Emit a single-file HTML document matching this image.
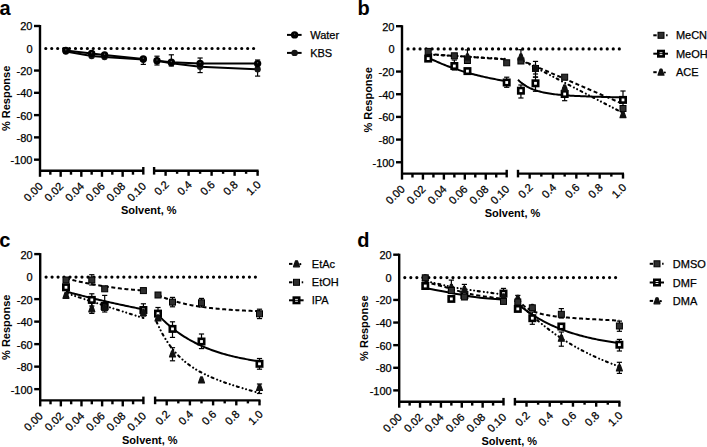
<!DOCTYPE html><html><head><meta charset="utf-8"><style>
html,body{margin:0;padding:0;background:#fff;}
svg{display:block;}
text{font-family:"Liberation Sans", sans-serif;fill:#000;}
.pl{font-size:20px;font-weight:bold;}
.tl{font-size:11px;stroke:#000;stroke-width:0.25px;}
.at{font-size:11px;font-weight:bold;}
.lg{font-size:11px;stroke:#000;stroke-width:0.25px;}
.ax{stroke:#000;stroke-width:2.4;fill:none;}
.zero{stroke:#000;stroke-width:3.2;stroke-dasharray:0 5.97;stroke-linecap:round;fill:none;}
.ln{stroke:#000;stroke-width:2;fill:none;}
.dash{stroke:#000;stroke-width:2;fill:none;stroke-dasharray:4 2.6;}
.dd{stroke:#000;stroke-width:2.1;fill:none;stroke-linecap:round;stroke-dasharray:2 4 0.01 3.6 0.01 3.8;}
.eb{stroke:#000;stroke-width:1.2;fill:none;}
</style></head><body>
<svg width="707" height="447" viewBox="0 0 707 447">
<text x="-0.6" y="14.5" class="pl">a</text>
<line x1="40" y1="25" x2="40" y2="176.8" class="ax"/>
<line x1="34" y1="26" x2="40" y2="26" class="ax"/>
<text x="32.5" y="30.4" class="tl" text-anchor="end">20</text>
<text x="32.5" y="52.68" class="tl" text-anchor="end">0</text>
<line x1="34" y1="70.55" x2="40" y2="70.55" class="ax"/>
<text x="32.5" y="74.95" class="tl" text-anchor="end">-20</text>
<line x1="34" y1="92.83" x2="40" y2="92.83" class="ax"/>
<text x="32.5" y="97.23" class="tl" text-anchor="end">-40</text>
<line x1="34" y1="115.11" x2="40" y2="115.11" class="ax"/>
<text x="32.5" y="119.51" class="tl" text-anchor="end">-60</text>
<line x1="34" y1="137.38" x2="40" y2="137.38" class="ax"/>
<text x="32.5" y="141.78" class="tl" text-anchor="end">-80</text>
<line x1="34" y1="159.66" x2="40" y2="159.66" class="ax"/>
<text x="32.5" y="164.06" class="tl" text-anchor="end">-100</text>
<line x1="40" y1="170.8" x2="143.3" y2="170.8" class="ax"/>
<line x1="50.33" y1="170.8" x2="50.33" y2="174.7" class="ax"/>
<line x1="60.66" y1="170.8" x2="60.66" y2="176.8" class="ax"/>
<line x1="70.99" y1="170.8" x2="70.99" y2="174.7" class="ax"/>
<line x1="81.32" y1="170.8" x2="81.32" y2="176.8" class="ax"/>
<line x1="91.65" y1="170.8" x2="91.65" y2="174.7" class="ax"/>
<line x1="101.98" y1="170.8" x2="101.98" y2="176.8" class="ax"/>
<line x1="112.31" y1="170.8" x2="112.31" y2="174.7" class="ax"/>
<line x1="122.64" y1="170.8" x2="122.64" y2="176.8" class="ax"/>
<line x1="132.97" y1="170.8" x2="132.97" y2="174.7" class="ax"/>
<line x1="143.3" y1="167" x2="143.3" y2="174.6" class="ax"/>
<line x1="154.1" y1="170.8" x2="258.6" y2="170.8" class="ax"/>
<line x1="154.1" y1="167" x2="154.1" y2="174.6" class="ax"/>
<line x1="165.6" y1="170.8" x2="165.6" y2="175.8" class="ax"/>
<line x1="177.1" y1="170.8" x2="177.1" y2="173.8" class="ax"/>
<line x1="188.6" y1="170.8" x2="188.6" y2="175.8" class="ax"/>
<line x1="200.1" y1="170.8" x2="200.1" y2="173.8" class="ax"/>
<line x1="211.6" y1="170.8" x2="211.6" y2="175.8" class="ax"/>
<line x1="223.1" y1="170.8" x2="223.1" y2="173.8" class="ax"/>
<line x1="234.6" y1="170.8" x2="234.6" y2="175.8" class="ax"/>
<line x1="246.1" y1="170.8" x2="246.1" y2="173.8" class="ax"/>
<line x1="257.6" y1="170.8" x2="257.6" y2="175.8" class="ax"/>
<text transform="translate(43.5,187) rotate(-45)" class="tl" text-anchor="end">0.00</text>
<text transform="translate(64.16,187) rotate(-45)" class="tl" text-anchor="end">0.02</text>
<text transform="translate(84.82,187) rotate(-45)" class="tl" text-anchor="end">0.04</text>
<text transform="translate(105.48,187) rotate(-45)" class="tl" text-anchor="end">0.06</text>
<text transform="translate(126.14,187) rotate(-45)" class="tl" text-anchor="end">0.08</text>
<text transform="translate(146.8,187) rotate(-45)" class="tl" text-anchor="end">0.10</text>
<text transform="translate(169.6,185.3) rotate(-45)" class="tl" text-anchor="end">0.2</text>
<text transform="translate(192.6,185.3) rotate(-45)" class="tl" text-anchor="end">0.4</text>
<text transform="translate(215.6,185.3) rotate(-45)" class="tl" text-anchor="end">0.6</text>
<text transform="translate(238.6,185.3) rotate(-45)" class="tl" text-anchor="end">0.8</text>
<text transform="translate(261.6,185.3) rotate(-45)" class="tl" text-anchor="end">1.0</text>
<text x="148.8" y="214.4" class="at" text-anchor="middle">Solvent, %</text>
<text transform="translate(10.3,98.4) rotate(-90)" class="at" text-anchor="middle">% Response</text>
<line x1="45.8" y1="48.5" x2="253.9" y2="48.5" class="zero" style="stroke-dasharray:0 5.9371"/>
<text x="357.6" y="14.7" class="pl">b</text>
<line x1="402" y1="25.2" x2="402" y2="179.6" class="ax"/>
<line x1="396" y1="26.2" x2="402" y2="26.2" class="ax"/>
<text x="394.5" y="30.6" class="tl" text-anchor="end">20</text>
<text x="394.5" y="53.28" class="tl" text-anchor="end">0</text>
<line x1="396" y1="71.55" x2="402" y2="71.55" class="ax"/>
<text x="394.5" y="75.95" class="tl" text-anchor="end">-20</text>
<line x1="396" y1="94.23" x2="402" y2="94.23" class="ax"/>
<text x="394.5" y="98.63" class="tl" text-anchor="end">-40</text>
<line x1="396" y1="116.91" x2="402" y2="116.91" class="ax"/>
<text x="394.5" y="121.31" class="tl" text-anchor="end">-60</text>
<line x1="396" y1="139.58" x2="402" y2="139.58" class="ax"/>
<text x="394.5" y="143.98" class="tl" text-anchor="end">-80</text>
<line x1="396" y1="162.26" x2="402" y2="162.26" class="ax"/>
<text x="394.5" y="166.66" class="tl" text-anchor="end">-100</text>
<line x1="402" y1="173.6" x2="506.7" y2="173.6" class="ax"/>
<line x1="412.47" y1="173.6" x2="412.47" y2="177.5" class="ax"/>
<line x1="422.94" y1="173.6" x2="422.94" y2="179.6" class="ax"/>
<line x1="433.41" y1="173.6" x2="433.41" y2="177.5" class="ax"/>
<line x1="443.88" y1="173.6" x2="443.88" y2="179.6" class="ax"/>
<line x1="454.35" y1="173.6" x2="454.35" y2="177.5" class="ax"/>
<line x1="464.82" y1="173.6" x2="464.82" y2="179.6" class="ax"/>
<line x1="475.29" y1="173.6" x2="475.29" y2="177.5" class="ax"/>
<line x1="485.76" y1="173.6" x2="485.76" y2="179.6" class="ax"/>
<line x1="496.23" y1="173.6" x2="496.23" y2="177.5" class="ax"/>
<line x1="506.7" y1="169.8" x2="506.7" y2="177.4" class="ax"/>
<line x1="518" y1="173.6" x2="624" y2="173.6" class="ax"/>
<line x1="518" y1="169.8" x2="518" y2="177.4" class="ax"/>
<line x1="529.67" y1="173.6" x2="529.67" y2="178.6" class="ax"/>
<line x1="541.33" y1="173.6" x2="541.33" y2="176.6" class="ax"/>
<line x1="553" y1="173.6" x2="553" y2="178.6" class="ax"/>
<line x1="564.67" y1="173.6" x2="564.67" y2="176.6" class="ax"/>
<line x1="576.33" y1="173.6" x2="576.33" y2="178.6" class="ax"/>
<line x1="588" y1="173.6" x2="588" y2="176.6" class="ax"/>
<line x1="599.67" y1="173.6" x2="599.67" y2="178.6" class="ax"/>
<line x1="611.33" y1="173.6" x2="611.33" y2="176.6" class="ax"/>
<line x1="623" y1="173.6" x2="623" y2="178.6" class="ax"/>
<text transform="translate(405.5,189.8) rotate(-45)" class="tl" text-anchor="end">0.00</text>
<text transform="translate(426.44,189.8) rotate(-45)" class="tl" text-anchor="end">0.02</text>
<text transform="translate(447.38,189.8) rotate(-45)" class="tl" text-anchor="end">0.04</text>
<text transform="translate(468.32,189.8) rotate(-45)" class="tl" text-anchor="end">0.06</text>
<text transform="translate(489.26,189.8) rotate(-45)" class="tl" text-anchor="end">0.08</text>
<text transform="translate(510.2,189.8) rotate(-45)" class="tl" text-anchor="end">0.10</text>
<text transform="translate(533.67,188.1) rotate(-45)" class="tl" text-anchor="end">0.2</text>
<text transform="translate(557,188.1) rotate(-45)" class="tl" text-anchor="end">0.4</text>
<text transform="translate(580.33,188.1) rotate(-45)" class="tl" text-anchor="end">0.6</text>
<text transform="translate(603.67,188.1) rotate(-45)" class="tl" text-anchor="end">0.8</text>
<text transform="translate(627,188.1) rotate(-45)" class="tl" text-anchor="end">1.0</text>
<text x="512.5" y="217.2" class="at" text-anchor="middle">Solvent, %</text>
<text transform="translate(372.3,99.9) rotate(-90)" class="at" text-anchor="middle">% Response</text>
<line x1="408" y1="48.9" x2="619.6" y2="48.9" class="zero" style="stroke-dasharray:0 6.0371"/>
<text x="-0.7" y="246.6" class="pl">c</text>
<line x1="40.2" y1="253.1" x2="40.2" y2="406.4" class="ax"/>
<line x1="34.2" y1="254.1" x2="40.2" y2="254.1" class="ax"/>
<text x="32.7" y="258.5" class="tl" text-anchor="end">20</text>
<text x="32.7" y="281.01" class="tl" text-anchor="end">0</text>
<line x1="34.2" y1="299.12" x2="40.2" y2="299.12" class="ax"/>
<text x="32.7" y="303.52" class="tl" text-anchor="end">-20</text>
<line x1="34.2" y1="321.62" x2="40.2" y2="321.62" class="ax"/>
<text x="32.7" y="326.02" class="tl" text-anchor="end">-40</text>
<line x1="34.2" y1="344.13" x2="40.2" y2="344.13" class="ax"/>
<text x="32.7" y="348.53" class="tl" text-anchor="end">-60</text>
<line x1="34.2" y1="366.64" x2="40.2" y2="366.64" class="ax"/>
<text x="32.7" y="371.04" class="tl" text-anchor="end">-80</text>
<line x1="34.2" y1="389.15" x2="40.2" y2="389.15" class="ax"/>
<text x="32.7" y="393.55" class="tl" text-anchor="end">-100</text>
<line x1="40.2" y1="400.4" x2="143.4" y2="400.4" class="ax"/>
<line x1="50.52" y1="400.4" x2="50.52" y2="404.3" class="ax"/>
<line x1="60.84" y1="400.4" x2="60.84" y2="406.4" class="ax"/>
<line x1="71.16" y1="400.4" x2="71.16" y2="404.3" class="ax"/>
<line x1="81.48" y1="400.4" x2="81.48" y2="406.4" class="ax"/>
<line x1="91.8" y1="400.4" x2="91.8" y2="404.3" class="ax"/>
<line x1="102.12" y1="400.4" x2="102.12" y2="406.4" class="ax"/>
<line x1="112.44" y1="400.4" x2="112.44" y2="404.3" class="ax"/>
<line x1="122.76" y1="400.4" x2="122.76" y2="406.4" class="ax"/>
<line x1="133.08" y1="400.4" x2="133.08" y2="404.3" class="ax"/>
<line x1="143.4" y1="396.6" x2="143.4" y2="404.2" class="ax"/>
<line x1="155.1" y1="400.4" x2="260.5" y2="400.4" class="ax"/>
<line x1="155.1" y1="396.6" x2="155.1" y2="404.2" class="ax"/>
<line x1="166.7" y1="400.4" x2="166.7" y2="405.4" class="ax"/>
<line x1="178.3" y1="400.4" x2="178.3" y2="403.4" class="ax"/>
<line x1="189.9" y1="400.4" x2="189.9" y2="405.4" class="ax"/>
<line x1="201.5" y1="400.4" x2="201.5" y2="403.4" class="ax"/>
<line x1="213.1" y1="400.4" x2="213.1" y2="405.4" class="ax"/>
<line x1="224.7" y1="400.4" x2="224.7" y2="403.4" class="ax"/>
<line x1="236.3" y1="400.4" x2="236.3" y2="405.4" class="ax"/>
<line x1="247.9" y1="400.4" x2="247.9" y2="403.4" class="ax"/>
<line x1="259.5" y1="400.4" x2="259.5" y2="405.4" class="ax"/>
<text transform="translate(43.7,416.6) rotate(-45)" class="tl" text-anchor="end">0.00</text>
<text transform="translate(64.34,416.6) rotate(-45)" class="tl" text-anchor="end">0.02</text>
<text transform="translate(84.98,416.6) rotate(-45)" class="tl" text-anchor="end">0.04</text>
<text transform="translate(105.62,416.6) rotate(-45)" class="tl" text-anchor="end">0.06</text>
<text transform="translate(126.26,416.6) rotate(-45)" class="tl" text-anchor="end">0.08</text>
<text transform="translate(146.9,416.6) rotate(-45)" class="tl" text-anchor="end">0.10</text>
<text transform="translate(170.7,414.9) rotate(-45)" class="tl" text-anchor="end">0.2</text>
<text transform="translate(193.9,414.9) rotate(-45)" class="tl" text-anchor="end">0.4</text>
<text transform="translate(217.1,414.9) rotate(-45)" class="tl" text-anchor="end">0.6</text>
<text transform="translate(240.3,414.9) rotate(-45)" class="tl" text-anchor="end">0.8</text>
<text transform="translate(263.5,414.9) rotate(-45)" class="tl" text-anchor="end">1.0</text>
<text x="149.85" y="444" class="at" text-anchor="middle">Solvent, %</text>
<text transform="translate(10.3,327.25) rotate(-90)" class="at" text-anchor="middle">% Response</text>
<line x1="46.1" y1="277.1" x2="255.7" y2="277.1" class="zero" style="stroke-dasharray:0 5.9800"/>
<text x="357.2" y="246.5" class="pl">d</text>
<line x1="399.2" y1="253.7" x2="399.2" y2="407.7" class="ax"/>
<line x1="393.2" y1="254.7" x2="399.2" y2="254.7" class="ax"/>
<text x="391.7" y="259.1" class="tl" text-anchor="end">20</text>
<text x="391.7" y="281.72" class="tl" text-anchor="end">0</text>
<line x1="393.2" y1="299.93" x2="399.2" y2="299.93" class="ax"/>
<text x="391.7" y="304.33" class="tl" text-anchor="end">-20</text>
<line x1="393.2" y1="322.55" x2="399.2" y2="322.55" class="ax"/>
<text x="391.7" y="326.95" class="tl" text-anchor="end">-40</text>
<line x1="393.2" y1="345.16" x2="399.2" y2="345.16" class="ax"/>
<text x="391.7" y="349.56" class="tl" text-anchor="end">-60</text>
<line x1="393.2" y1="367.78" x2="399.2" y2="367.78" class="ax"/>
<text x="391.7" y="372.18" class="tl" text-anchor="end">-80</text>
<line x1="393.2" y1="390.39" x2="399.2" y2="390.39" class="ax"/>
<text x="391.7" y="394.79" class="tl" text-anchor="end">-100</text>
<line x1="399.2" y1="401.7" x2="503.5" y2="401.7" class="ax"/>
<line x1="409.63" y1="401.7" x2="409.63" y2="405.6" class="ax"/>
<line x1="420.06" y1="401.7" x2="420.06" y2="407.7" class="ax"/>
<line x1="430.49" y1="401.7" x2="430.49" y2="405.6" class="ax"/>
<line x1="440.92" y1="401.7" x2="440.92" y2="407.7" class="ax"/>
<line x1="451.35" y1="401.7" x2="451.35" y2="405.6" class="ax"/>
<line x1="461.78" y1="401.7" x2="461.78" y2="407.7" class="ax"/>
<line x1="472.21" y1="401.7" x2="472.21" y2="405.6" class="ax"/>
<line x1="482.64" y1="401.7" x2="482.64" y2="407.7" class="ax"/>
<line x1="493.07" y1="401.7" x2="493.07" y2="405.6" class="ax"/>
<line x1="503.5" y1="397.9" x2="503.5" y2="405.5" class="ax"/>
<line x1="514.9" y1="401.7" x2="620.4" y2="401.7" class="ax"/>
<line x1="514.9" y1="397.9" x2="514.9" y2="405.5" class="ax"/>
<line x1="526.51" y1="401.7" x2="526.51" y2="406.7" class="ax"/>
<line x1="538.12" y1="401.7" x2="538.12" y2="404.7" class="ax"/>
<line x1="549.73" y1="401.7" x2="549.73" y2="406.7" class="ax"/>
<line x1="561.34" y1="401.7" x2="561.34" y2="404.7" class="ax"/>
<line x1="572.96" y1="401.7" x2="572.96" y2="406.7" class="ax"/>
<line x1="584.57" y1="401.7" x2="584.57" y2="404.7" class="ax"/>
<line x1="596.18" y1="401.7" x2="596.18" y2="406.7" class="ax"/>
<line x1="607.79" y1="401.7" x2="607.79" y2="404.7" class="ax"/>
<line x1="619.4" y1="401.7" x2="619.4" y2="406.7" class="ax"/>
<text transform="translate(402.7,417.9) rotate(-45)" class="tl" text-anchor="end">0.00</text>
<text transform="translate(423.56,417.9) rotate(-45)" class="tl" text-anchor="end">0.02</text>
<text transform="translate(444.42,417.9) rotate(-45)" class="tl" text-anchor="end">0.04</text>
<text transform="translate(465.28,417.9) rotate(-45)" class="tl" text-anchor="end">0.06</text>
<text transform="translate(486.14,417.9) rotate(-45)" class="tl" text-anchor="end">0.08</text>
<text transform="translate(507,417.9) rotate(-45)" class="tl" text-anchor="end">0.10</text>
<text transform="translate(530.51,416.2) rotate(-45)" class="tl" text-anchor="end">0.2</text>
<text transform="translate(553.73,416.2) rotate(-45)" class="tl" text-anchor="end">0.4</text>
<text transform="translate(576.96,416.2) rotate(-45)" class="tl" text-anchor="end">0.6</text>
<text transform="translate(600.18,416.2) rotate(-45)" class="tl" text-anchor="end">0.8</text>
<text transform="translate(623.4,416.2) rotate(-45)" class="tl" text-anchor="end">1.0</text>
<text x="509.3" y="445.3" class="at" text-anchor="middle">Solvent, %</text>
<text transform="translate(368.3,328.2) rotate(-90)" class="at" text-anchor="middle">% Response</text>
<line x1="404.8" y1="277.6" x2="615.9" y2="277.6" class="zero" style="stroke-dasharray:0 6.0229"/>
<g id="data">
<line x1="143.3" y1="57.5" x2="143.3" y2="64.4" class="eb"/><line x1="140.7" y1="57.5" x2="145.9" y2="57.5" class="eb"/><line x1="140.7" y1="64.4" x2="145.9" y2="64.4" class="eb"/>
<line x1="156.97" y1="56.2" x2="156.97" y2="65" class="eb"/><line x1="154.38" y1="56.2" x2="159.57" y2="56.2" class="eb"/><line x1="154.38" y1="65" x2="159.57" y2="65" class="eb"/>
<line x1="171.35" y1="54.8" x2="171.35" y2="66" class="eb"/><line x1="168.75" y1="54.8" x2="173.95" y2="54.8" class="eb"/><line x1="168.75" y1="66" x2="173.95" y2="66" class="eb"/>
<line x1="200.1" y1="58" x2="200.1" y2="72.6" class="eb"/><line x1="197.5" y1="58" x2="202.7" y2="58" class="eb"/><line x1="197.5" y1="72.6" x2="202.7" y2="72.6" class="eb"/>
<line x1="257.6" y1="60" x2="257.6" y2="76.1" class="eb"/><line x1="255" y1="60" x2="260.2" y2="60" class="eb"/><line x1="255" y1="76.1" x2="260.2" y2="76.1" class="eb"/>
<path d="M65.83,51.5 L91.65,56 L104.56,57 L143.3,59.5" class="ln"/>
<path d="M65.83,50.5 L91.65,53.5 L104.56,55 L143.3,59" class="ln"/>
<path d="M156.97,60.7 L171.35,63.2 L200.1,66.7 L257.6,69.3" class="ln"/>
<path d="M156.97,60.7 L171.35,62.3 L200.1,63.4 L257.6,63.6" class="ln"/>
<circle cx="65.83" cy="51.5" r="3.2" fill="#151515"/>
<circle cx="91.65" cy="56" r="3.2" fill="#151515"/>
<circle cx="104.56" cy="57" r="3.2" fill="#151515"/>
<circle cx="143.3" cy="59.5" r="3.2" fill="#151515"/>
<circle cx="156.97" cy="60.7" r="3.2" fill="#151515"/>
<circle cx="171.35" cy="63.2" r="3.2" fill="#151515"/>
<circle cx="200.1" cy="66.7" r="3.2" fill="#151515"/>
<circle cx="257.6" cy="69.3" r="3.2" fill="#151515"/>
<circle cx="65.83" cy="50.5" r="3.7" fill="#000"/><circle cx="65.83" cy="49.7" r="0.7" fill="#555"/>
<circle cx="91.65" cy="53.5" r="3.7" fill="#000"/><circle cx="91.65" cy="52.7" r="0.7" fill="#555"/>
<circle cx="104.56" cy="55" r="3.7" fill="#000"/><circle cx="104.56" cy="54.2" r="0.7" fill="#555"/>
<circle cx="143.3" cy="59" r="3.7" fill="#000"/><circle cx="143.3" cy="58.2" r="0.7" fill="#555"/>
<circle cx="156.97" cy="60.7" r="3.7" fill="#000"/><circle cx="156.97" cy="59.9" r="0.7" fill="#555"/>
<circle cx="171.35" cy="62.3" r="3.7" fill="#000"/><circle cx="171.35" cy="61.5" r="0.7" fill="#555"/>
<circle cx="200.1" cy="63.4" r="3.7" fill="#000"/><circle cx="200.1" cy="62.6" r="0.7" fill="#555"/>
<circle cx="257.6" cy="63.6" r="3.7" fill="#000"/><circle cx="257.6" cy="62.8" r="0.7" fill="#555"/>
<line x1="454.35" y1="60" x2="454.35" y2="70" class="eb"/><line x1="451.75" y1="60" x2="456.95" y2="60" class="eb"/><line x1="451.75" y1="70" x2="456.95" y2="70" class="eb"/>
<line x1="467.44" y1="49.9" x2="467.44" y2="60" class="eb"/><line x1="464.84" y1="49.9" x2="470.04" y2="49.9" class="eb"/><line x1="464.84" y1="60" x2="470.04" y2="60" class="eb"/>
<line x1="506.7" y1="77.2" x2="506.7" y2="87.3" class="eb"/><line x1="504.1" y1="77.2" x2="509.3" y2="77.2" class="eb"/><line x1="504.1" y1="87.3" x2="509.3" y2="87.3" class="eb"/>
<line x1="520.92" y1="49.7" x2="520.92" y2="62" class="eb"/><line x1="518.32" y1="49.7" x2="523.52" y2="49.7" class="eb"/><line x1="518.32" y1="62" x2="523.52" y2="62" class="eb"/>
<line x1="520.92" y1="85" x2="520.92" y2="98" class="eb"/><line x1="518.32" y1="85" x2="523.52" y2="85" class="eb"/><line x1="518.32" y1="98" x2="523.52" y2="98" class="eb"/>
<line x1="535.5" y1="61.4" x2="535.5" y2="74" class="eb"/><line x1="532.9" y1="61.4" x2="538.1" y2="61.4" class="eb"/><line x1="532.9" y1="74" x2="538.1" y2="74" class="eb"/>
<line x1="535.5" y1="70" x2="535.5" y2="77.2" class="eb"/><line x1="532.9" y1="70" x2="538.1" y2="70" class="eb"/><line x1="532.9" y1="77.2" x2="538.1" y2="77.2" class="eb"/>
<line x1="535.5" y1="77" x2="535.5" y2="91.3" class="eb"/><line x1="532.9" y1="77" x2="538.1" y2="77" class="eb"/><line x1="532.9" y1="91.3" x2="538.1" y2="91.3" class="eb"/>
<line x1="564.67" y1="88" x2="564.67" y2="100.7" class="eb"/><line x1="562.07" y1="88" x2="567.27" y2="88" class="eb"/><line x1="562.07" y1="100.7" x2="567.27" y2="100.7" class="eb"/>
<line x1="623" y1="91" x2="623" y2="108" class="eb"/><line x1="620.4" y1="91" x2="625.6" y2="91" class="eb"/><line x1="620.4" y1="108" x2="625.6" y2="108" class="eb"/>
<path d="M428.18,54 L506.7,59.5" class="dash"/>
<path d="M428.18,54.5 L506.7,59" class="dd"/>
<path d="M428.18,57.63 L429.69,58.38 L431.2,59.11 L432.71,59.83 L434.22,60.53 L435.73,61.21 L437.24,61.88 L438.75,62.54 L440.26,63.18 L441.77,63.81 L443.28,64.43 L444.79,65.03 L446.3,65.62 L447.81,66.2 L449.32,66.76 L450.83,67.31 L452.34,67.86 L453.85,68.38 L455.36,68.9 L456.87,69.41 L458.38,69.9 L459.89,70.39 L461.4,70.86 L462.91,71.33 L464.42,71.78 L465.93,72.23 L467.44,72.66 L468.95,73.09 L470.46,73.5 L471.97,73.91 L473.48,74.31 L474.99,74.7 L476.5,75.08 L478.01,75.46 L479.52,75.82 L481.03,76.18 L482.54,76.53 L484.05,76.87 L485.56,77.21 L487.07,77.54 L488.58,77.86 L490.09,78.17 L491.6,78.48 L493.11,78.78 L494.62,79.08 L496.13,79.36 L497.64,79.65 L499.15,79.92 L500.66,80.19 L502.17,80.46 L503.68,80.71 L505.19,80.97 L506.7,81.21" class="ln"/>
<path d="M520.92,60 L623,104" class="dash"/>
<path d="M520.92,60 L623,113" class="dd"/>
<path d="M518,79.85 L519.5,81.22 L521,82.48 L522.5,83.63 L524,84.68 L525.5,85.64 L527,86.51 L528.5,87.32 L530,88.05 L531.5,88.73 L533,89.34 L534.5,89.91 L536,90.43 L537.5,90.9 L539,91.34 L540.5,91.74 L542,92.11 L543.5,92.45 L545,92.76 L546.5,93.05 L548,93.32 L549.5,93.56 L551,93.79 L552.5,94 L554,94.2 L555.5,94.38 L557,94.54 L558.5,94.7 L560,94.85 L561.5,94.98 L563,95.11 L564.5,95.23 L566,95.34 L567.5,95.45 L569,95.54 L570.5,95.64 L572,95.73 L573.5,95.81 L575,95.89 L576.5,95.97 L578,96.04 L579.5,96.11 L581,96.17 L582.5,96.24 L584,96.3 L585.5,96.36 L587,96.41 L588.5,96.47 L590,96.52 L591.5,96.58 L593,96.63 L594.5,96.68 L596,96.72 L597.5,96.77 L599,96.82 L600.5,96.86 L602,96.91 L603.5,96.95 L605,96.99 L606.5,97.04 L608,97.08 L609.5,97.12 L611,97.16 L612.5,97.2 L614,97.24 L615.5,97.28 L617,97.32 L618.5,97.36 L620,97.4 L621.5,97.44 L623,97.48" class="ln"/>
<rect x="425.48" y="55.9" width="5.4" height="5.4" fill="#fff" stroke="#000" stroke-width="2.6"/>
<rect x="451.65" y="63.3" width="5.4" height="5.4" fill="#fff" stroke="#000" stroke-width="2.6"/>
<rect x="464.74" y="68.4" width="5.4" height="5.4" fill="#fff" stroke="#000" stroke-width="2.6"/>
<rect x="504" y="79.8" width="5.4" height="5.4" fill="#fff" stroke="#000" stroke-width="2.6"/>
<rect x="518.22" y="88" width="5.4" height="5.4" fill="#fff" stroke="#000" stroke-width="2.6"/>
<rect x="532.8" y="80.6" width="5.4" height="5.4" fill="#fff" stroke="#000" stroke-width="2.6"/>
<rect x="561.97" y="91.3" width="5.4" height="5.4" fill="#fff" stroke="#000" stroke-width="2.6"/>
<rect x="620.3" y="97.2" width="5.4" height="5.4" fill="#fff" stroke="#000" stroke-width="2.6"/>
<rect x="425.18" y="48.4" width="6" height="6" fill="#2e2e2e" stroke="#000" stroke-width="1"/>
<rect x="451.35" y="52.8" width="6" height="6" fill="#2e2e2e" stroke="#000" stroke-width="1"/>
<rect x="464.44" y="57.5" width="6" height="6" fill="#2e2e2e" stroke="#000" stroke-width="1"/>
<rect x="503.7" y="59.8" width="6" height="6" fill="#2e2e2e" stroke="#000" stroke-width="1"/>
<rect x="517.92" y="58" width="6" height="6" fill="#2e2e2e" stroke="#000" stroke-width="1"/>
<rect x="532.5" y="65.5" width="6" height="6" fill="#2e2e2e" stroke="#000" stroke-width="1"/>
<rect x="561.67" y="74.2" width="6" height="6" fill="#2e2e2e" stroke="#000" stroke-width="1"/>
<rect x="620" y="105.5" width="6" height="6" fill="#2e2e2e" stroke="#000" stroke-width="1"/>
<path d="M466.54,53.9 L468.34,53.9 L470.44,59.9 L464.44,59.9 Z" fill="#111" stroke="#111" stroke-width="1.2" stroke-linejoin="round"/>
<path d="M520.02,53.9 L521.82,53.9 L523.92,59.9 L517.92,59.9 Z" fill="#111" stroke="#111" stroke-width="1.2" stroke-linejoin="round"/>
<path d="M534.6,65.4 L536.4,65.4 L538.5,71.4 L532.5,71.4 Z" fill="#111" stroke="#111" stroke-width="1.2" stroke-linejoin="round"/>
<path d="M563.77,84.9 L565.57,84.9 L567.67,90.9 L561.67,90.9 Z" fill="#111" stroke="#111" stroke-width="1.2" stroke-linejoin="round"/>
<path d="M622.1,111.7 L623.9,111.7 L626,117.7 L620,117.7 Z" fill="#111" stroke="#111" stroke-width="1.2" stroke-linejoin="round"/>
<line x1="91.8" y1="274.7" x2="91.8" y2="285" class="eb"/><line x1="89.2" y1="274.7" x2="94.4" y2="274.7" class="eb"/><line x1="89.2" y1="285" x2="94.4" y2="285" class="eb"/>
<line x1="91.8" y1="293.8" x2="91.8" y2="306" class="eb"/><line x1="89.2" y1="293.8" x2="94.4" y2="293.8" class="eb"/><line x1="89.2" y1="306" x2="94.4" y2="306" class="eb"/>
<line x1="91.8" y1="303" x2="91.8" y2="313.4" class="eb"/><line x1="89.2" y1="303" x2="94.4" y2="303" class="eb"/><line x1="89.2" y1="313.4" x2="94.4" y2="313.4" class="eb"/>
<line x1="104.7" y1="295.4" x2="104.7" y2="312" class="eb"/><line x1="102.1" y1="295.4" x2="107.3" y2="295.4" class="eb"/><line x1="102.1" y1="312" x2="107.3" y2="312" class="eb"/>
<line x1="143.4" y1="303.8" x2="143.4" y2="316" class="eb"/><line x1="140.8" y1="303.8" x2="146" y2="303.8" class="eb"/><line x1="140.8" y1="316" x2="146" y2="316" class="eb"/>
<line x1="158" y1="307.5" x2="158" y2="320" class="eb"/><line x1="155.4" y1="307.5" x2="160.6" y2="307.5" class="eb"/><line x1="155.4" y1="320" x2="160.6" y2="320" class="eb"/>
<line x1="172.5" y1="297.4" x2="172.5" y2="306.8" class="eb"/><line x1="169.9" y1="297.4" x2="175.1" y2="297.4" class="eb"/><line x1="169.9" y1="306.8" x2="175.1" y2="306.8" class="eb"/>
<line x1="172.5" y1="321.8" x2="172.5" y2="337.4" class="eb"/><line x1="169.9" y1="321.8" x2="175.1" y2="321.8" class="eb"/><line x1="169.9" y1="337.4" x2="175.1" y2="337.4" class="eb"/>
<line x1="172.5" y1="347.7" x2="172.5" y2="360.8" class="eb"/><line x1="169.9" y1="347.7" x2="175.1" y2="347.7" class="eb"/><line x1="169.9" y1="360.8" x2="175.1" y2="360.8" class="eb"/>
<line x1="201.5" y1="298.4" x2="201.5" y2="307" class="eb"/><line x1="198.9" y1="298.4" x2="204.1" y2="298.4" class="eb"/><line x1="198.9" y1="307" x2="204.1" y2="307" class="eb"/>
<line x1="201.5" y1="334" x2="201.5" y2="348.6" class="eb"/><line x1="198.9" y1="334" x2="204.1" y2="334" class="eb"/><line x1="198.9" y1="348.6" x2="204.1" y2="348.6" class="eb"/>
<line x1="259.5" y1="309.2" x2="259.5" y2="318.6" class="eb"/><line x1="256.9" y1="309.2" x2="262.1" y2="309.2" class="eb"/><line x1="256.9" y1="318.6" x2="262.1" y2="318.6" class="eb"/>
<line x1="259.5" y1="358.5" x2="259.5" y2="369.2" class="eb"/><line x1="256.9" y1="358.5" x2="262.1" y2="358.5" class="eb"/><line x1="256.9" y1="369.2" x2="262.1" y2="369.2" class="eb"/>
<line x1="259.5" y1="384" x2="259.5" y2="393.5" class="eb"/><line x1="256.9" y1="384" x2="262.1" y2="384" class="eb"/><line x1="256.9" y1="393.5" x2="262.1" y2="393.5" class="eb"/>
<path d="M66,278.41 L67.52,278.8 L69.04,279.18 L70.55,279.55 L72.07,279.92 L73.59,280.28 L75.11,280.63 L76.62,280.98 L78.14,281.32 L79.66,281.66 L81.18,281.99 L82.69,282.32 L84.21,282.64 L85.73,282.95 L87.25,283.26 L88.76,283.56 L90.28,283.85 L91.8,284.14 L93.32,284.43 L94.84,284.7 L96.35,284.98 L97.87,285.24 L99.39,285.5 L100.91,285.75 L102.42,286 L103.94,286.24 L105.46,286.48 L106.98,286.71 L108.49,286.93 L110.01,287.15 L111.53,287.36 L113.05,287.57 L114.56,287.77 L116.08,287.96 L117.6,288.15 L119.12,288.33 L120.64,288.51 L122.15,288.68 L123.67,288.85 L125.19,289 L126.71,289.16 L128.22,289.3 L129.74,289.45 L131.26,289.58 L132.78,289.71 L134.29,289.83 L135.81,289.95 L137.33,290.06 L138.85,290.17 L140.36,290.27 L141.88,290.36 L143.4,290.45" class="dash"/>
<path d="M66,291.5 L67.52,291.91 L69.04,292.32 L70.55,292.72 L72.07,293.12 L73.59,293.52 L75.11,293.91 L76.62,294.3 L78.14,294.69 L79.66,295.08 L81.18,295.47 L82.69,295.85 L84.21,296.23 L85.73,296.61 L87.25,296.99 L88.76,297.36 L90.28,297.73 L91.8,298.1 L93.32,298.47 L94.84,298.83 L96.35,299.2 L97.87,299.56 L99.39,299.91 L100.91,300.27 L102.42,300.62 L103.94,300.98 L105.46,301.33 L106.98,301.67 L108.49,302.02 L110.01,302.36 L111.53,302.7 L113.05,303.04 L114.56,303.38 L116.08,303.71 L117.6,304.04 L119.12,304.37 L120.64,304.7 L122.15,305.03 L123.67,305.35 L125.19,305.68 L126.71,306 L128.22,306.32 L129.74,306.63 L131.26,306.95 L132.78,307.26 L134.29,307.57 L135.81,307.88 L137.33,308.19 L138.85,308.49 L140.36,308.8 L141.88,309.1 L143.4,309.4" class="ln"/>
<path d="M66,293.02 L67.52,293.52 L69.04,294.03 L70.55,294.53 L72.07,295.04 L73.59,295.54 L75.11,296.05 L76.62,296.55 L78.14,297.05 L79.66,297.55 L81.18,298.05 L82.69,298.55 L84.21,299.05 L85.73,299.55 L87.25,300.04 L88.76,300.54 L90.28,301.04 L91.8,301.53 L93.32,302.03 L94.84,302.52 L96.35,303.02 L97.87,303.51 L99.39,304.01 L100.91,304.5 L102.42,304.99 L103.94,305.48 L105.46,305.97 L106.98,306.46 L108.49,306.95 L110.01,307.44 L111.53,307.93 L113.05,308.41 L114.56,308.9 L116.08,309.39 L117.6,309.87 L119.12,310.36 L120.64,310.84 L122.15,311.32 L123.67,311.81 L125.19,312.29 L126.71,312.77 L128.22,313.25 L129.74,313.73 L131.26,314.21 L132.78,314.69 L134.29,315.17 L135.81,315.65 L137.33,316.13 L138.85,316.61 L140.36,317.08 L141.88,317.56 L143.4,318.03" class="dd"/>
<path d="M158,295.16 L159.51,295.83 L161.03,296.47 L162.54,297.08 L164.06,297.67 L165.57,298.24 L167.09,298.78 L168.6,299.31 L170.12,299.82 L171.63,300.3 L173.15,300.77 L174.66,301.22 L176.18,301.65 L177.69,302.06 L179.21,302.46 L180.72,302.85 L182.24,303.22 L183.75,303.57 L185.27,303.91 L186.78,304.24 L188.3,304.56 L189.81,304.86 L191.33,305.15 L192.84,305.43 L194.36,305.7 L195.87,305.96 L197.39,306.21 L198.9,306.45 L200.42,306.68 L201.93,306.9 L203.45,307.12 L204.96,307.32 L206.48,307.52 L207.99,307.71 L209.51,307.89 L211.02,308.07 L212.54,308.24 L214.05,308.4 L215.57,308.55 L217.08,308.7 L218.6,308.85 L220.11,308.99 L221.63,309.12 L223.14,309.25 L224.66,309.37 L226.17,309.49 L227.69,309.6 L229.2,309.71 L230.72,309.82 L232.23,309.92 L233.75,310.02 L235.26,310.11 L236.78,310.2 L238.29,310.29 L239.81,310.37 L241.32,310.45 L242.84,310.53 L244.35,310.6 L245.87,310.67 L247.38,310.74 L248.9,310.81 L250.41,310.87 L251.93,310.93 L253.44,310.99 L254.96,311.05 L256.47,311.1 L257.99,311.15 L259.5,311.21" class="dash"/>
<path d="M156,312.62 L157.5,314.26 L159,315.86 L160.5,317.4 L162,318.91 L163.5,320.36 L165,321.78 L166.5,323.15 L168,324.48 L169.5,325.78 L171,327.03 L172.5,328.25 L174,329.43 L175.5,330.58 L177,331.69 L178.5,332.77 L180,333.82 L181.5,334.84 L183,335.83 L184.5,336.79 L186,337.72 L187.5,338.62 L189,339.5 L190.5,340.35 L192,341.18 L193.5,341.98 L195,342.75 L196.5,343.51 L198,344.24 L199.5,344.95 L201,345.64 L202.5,346.31 L204,346.96 L205.5,347.6 L207,348.21 L208.5,348.8 L210,349.38 L211.5,349.94 L213,350.48 L214.5,351.01 L216,351.52 L217.5,352.02 L219,352.5 L220.5,352.97 L222,353.42 L223.5,353.87 L225,354.29 L226.5,354.71 L228,355.11 L229.5,355.5 L231,355.88 L232.5,356.25 L234,356.61 L235.5,356.96 L237,357.29 L238.5,357.62 L240,357.94 L241.5,358.25 L243,358.54 L244.5,358.83 L246,359.12 L247.5,359.39 L249,359.65 L250.5,359.91 L252,360.16 L253.5,360.4 L255,360.64 L256.5,360.87 L258,361.09 L259.5,361.31" class="ln"/>
<path d="M156.5,321.71 L158.01,325.06 L159.53,328.22 L161.04,331.19 L162.56,334 L164.07,336.65 L165.59,339.15 L167.1,341.51 L168.62,343.75 L170.13,345.87 L171.65,347.87 L173.16,349.77 L174.68,351.57 L176.19,353.28 L177.71,354.9 L179.22,356.44 L180.74,357.91 L182.25,359.31 L183.76,360.64 L185.28,361.91 L186.79,363.12 L188.31,364.28 L189.82,365.39 L191.34,366.45 L192.85,367.46 L194.37,368.44 L195.88,369.38 L197.4,370.28 L198.91,371.15 L200.43,371.99 L201.94,372.79 L203.46,373.57 L204.97,374.33 L206.49,375.06 L208,375.77 L209.51,376.45 L211.03,377.12 L212.54,377.77 L214.06,378.4 L215.57,379.02 L217.09,379.62 L218.6,380.21 L220.12,380.78 L221.63,381.34 L223.15,381.89 L224.66,382.43 L226.18,382.96 L227.69,383.48 L229.21,383.99 L230.72,384.49 L232.24,384.99 L233.75,385.48 L235.26,385.96 L236.78,386.43 L238.29,386.9 L239.81,387.37 L241.32,387.82 L242.84,388.28 L244.35,388.73 L245.87,389.17 L247.38,389.61 L248.9,390.05 L250.41,390.49 L251.93,390.92 L253.44,391.35 L254.96,391.77 L256.47,392.19 L257.99,392.61 L259.5,393.03" class="dd"/>
<rect x="63.3" y="284.6" width="5.4" height="5.4" fill="#fff" stroke="#000" stroke-width="2.6"/>
<rect x="89.1" y="297.2" width="5.4" height="5.4" fill="#fff" stroke="#000" stroke-width="2.6"/>
<rect x="102" y="303.3" width="5.4" height="5.4" fill="#fff" stroke="#000" stroke-width="2.6"/>
<rect x="140.7" y="307.3" width="5.4" height="5.4" fill="#fff" stroke="#000" stroke-width="2.6"/>
<rect x="155.3" y="310.9" width="5.4" height="5.4" fill="#fff" stroke="#000" stroke-width="2.6"/>
<rect x="169.8" y="326.2" width="5.4" height="5.4" fill="#fff" stroke="#000" stroke-width="2.6"/>
<rect x="198.8" y="338.8" width="5.4" height="5.4" fill="#fff" stroke="#000" stroke-width="2.6"/>
<rect x="256.8" y="361.1" width="5.4" height="5.4" fill="#fff" stroke="#000" stroke-width="2.6"/>
<path d="M65.1,292.3 L66.9,292.3 L69,298.3 L63,298.3 Z" fill="#111" stroke="#111" stroke-width="1.2" stroke-linejoin="round"/>
<path d="M90.9,305.8 L92.7,305.8 L94.8,311.8 L88.8,311.8 Z" fill="#111" stroke="#111" stroke-width="1.2" stroke-linejoin="round"/>
<path d="M103.8,304.4 L105.6,304.4 L107.7,310.4 L101.7,310.4 Z" fill="#111" stroke="#111" stroke-width="1.2" stroke-linejoin="round"/>
<path d="M142.5,309.7 L144.3,309.7 L146.4,315.7 L140.4,315.7 Z" fill="#111" stroke="#111" stroke-width="1.2" stroke-linejoin="round"/>
<path d="M157.1,314.9 L158.9,314.9 L161,320.9 L155,320.9 Z" fill="#111" stroke="#111" stroke-width="1.2" stroke-linejoin="round"/>
<path d="M171.6,350.9 L173.4,350.9 L175.5,356.9 L169.5,356.9 Z" fill="#111" stroke="#111" stroke-width="1.2" stroke-linejoin="round"/>
<path d="M200.6,376.9 L202.4,376.9 L204.5,382.9 L198.5,382.9 Z" fill="#111" stroke="#111" stroke-width="1.2" stroke-linejoin="round"/>
<path d="M258.6,384.5 L260.4,384.5 L262.5,390.5 L256.5,390.5 Z" fill="#111" stroke="#111" stroke-width="1.2" stroke-linejoin="round"/>
<rect x="63" y="277" width="6" height="6" fill="#2e2e2e" stroke="#000" stroke-width="1"/>
<rect x="88.8" y="277" width="6" height="6" fill="#2e2e2e" stroke="#000" stroke-width="1"/>
<rect x="101.7" y="285.8" width="6" height="6" fill="#2e2e2e" stroke="#000" stroke-width="1"/>
<rect x="140.4" y="287.6" width="6" height="6" fill="#2e2e2e" stroke="#000" stroke-width="1"/>
<rect x="155" y="292" width="6" height="6" fill="#2e2e2e" stroke="#000" stroke-width="1"/>
<rect x="169.5" y="299.1" width="6" height="6" fill="#2e2e2e" stroke="#000" stroke-width="1"/>
<rect x="198.5" y="299.8" width="6" height="6" fill="#2e2e2e" stroke="#000" stroke-width="1"/>
<rect x="256.5" y="310.8" width="6" height="6" fill="#2e2e2e" stroke="#000" stroke-width="1"/>
<line x1="451.35" y1="280.1" x2="451.35" y2="292" class="eb"/><line x1="448.75" y1="280.1" x2="453.95" y2="280.1" class="eb"/><line x1="448.75" y1="292" x2="453.95" y2="292" class="eb"/>
<line x1="464.39" y1="284.4" x2="464.39" y2="294" class="eb"/><line x1="461.79" y1="284.4" x2="466.99" y2="284.4" class="eb"/><line x1="461.79" y1="294" x2="466.99" y2="294" class="eb"/>
<line x1="503.5" y1="288.4" x2="503.5" y2="298" class="eb"/><line x1="500.9" y1="288.4" x2="506.1" y2="288.4" class="eb"/><line x1="500.9" y1="298" x2="506.1" y2="298" class="eb"/>
<line x1="517.8" y1="295.4" x2="517.8" y2="305" class="eb"/><line x1="515.2" y1="295.4" x2="520.4" y2="295.4" class="eb"/><line x1="515.2" y1="305" x2="520.4" y2="305" class="eb"/>
<line x1="532.32" y1="312" x2="532.32" y2="324.3" class="eb"/><line x1="529.72" y1="312" x2="534.92" y2="312" class="eb"/><line x1="529.72" y1="324.3" x2="534.92" y2="324.3" class="eb"/>
<line x1="561.34" y1="308.6" x2="561.34" y2="318" class="eb"/><line x1="558.74" y1="308.6" x2="563.94" y2="308.6" class="eb"/><line x1="558.74" y1="318" x2="563.94" y2="318" class="eb"/>
<line x1="561.34" y1="332" x2="561.34" y2="346.2" class="eb"/><line x1="558.74" y1="332" x2="563.94" y2="332" class="eb"/><line x1="558.74" y1="346.2" x2="563.94" y2="346.2" class="eb"/>
<line x1="619.4" y1="321.1" x2="619.4" y2="331.3" class="eb"/><line x1="616.8" y1="321.1" x2="622" y2="321.1" class="eb"/><line x1="616.8" y1="331.3" x2="622" y2="331.3" class="eb"/>
<line x1="619.4" y1="339.4" x2="619.4" y2="351" class="eb"/><line x1="616.8" y1="339.4" x2="622" y2="339.4" class="eb"/><line x1="616.8" y1="351" x2="622" y2="351" class="eb"/>
<line x1="619.4" y1="362.3" x2="619.4" y2="373.4" class="eb"/><line x1="616.8" y1="362.3" x2="622" y2="362.3" class="eb"/><line x1="616.8" y1="373.4" x2="622" y2="373.4" class="eb"/>
<path d="M425.27,282 C428.56,282.83 437.55,285 445,287 C452.45,289 460.25,292 470,294 C479.75,296 497.92,298.17 503.5,299" class="dash"/>
<path d="M425.27,288 C433.56,289.5 461.96,295.08 475,297 C488.04,298.92 498.75,299.08 503.5,299.5" class="ln"/>
<path d="M425.27,281 C430.23,282.08 446.71,285.88 455,287.5 C463.29,289.12 466.92,289.53 475,290.7 C483.08,291.87 498.75,293.87 503.5,294.5" class="dd"/>
<path d="M517.8,299.79 L519.32,301.55 L520.84,303.12 L522.35,304.53 L523.87,305.8 L525.38,306.94 L526.9,307.97 L528.42,308.89 L529.93,309.72 L531.45,310.47 L532.97,311.15 L534.48,311.77 L536,312.32 L537.52,312.83 L539.03,313.29 L540.55,313.7 L542.06,314.09 L543.58,314.44 L545.1,314.76 L546.61,315.05 L548.13,315.32 L549.65,315.57 L551.16,315.8 L552.68,316.02 L554.2,316.22 L555.71,316.41 L557.23,316.58 L558.74,316.75 L560.26,316.91 L561.78,317.06 L563.29,317.2 L564.81,317.33 L566.33,317.46 L567.84,317.58 L569.36,317.7 L570.88,317.82 L572.39,317.93 L573.91,318.04 L575.43,318.14 L576.94,318.24 L578.46,318.34 L579.97,318.44 L581.49,318.54 L583.01,318.63 L584.52,318.72 L586.04,318.81 L587.56,318.9 L589.07,318.99 L590.59,319.08 L592.11,319.17 L593.62,319.26 L595.14,319.34 L596.65,319.43 L598.17,319.51 L599.69,319.6 L601.2,319.68 L602.72,319.76 L604.24,319.85 L605.75,319.93 L607.27,320.01 L608.79,320.09 L610.3,320.18 L611.82,320.26 L613.33,320.34 L614.85,320.42 L616.37,320.5 L617.88,320.58 L619.4,320.66" class="dash"/>
<path d="M517.8,303.94 L519.32,305.2 L520.84,306.42 L522.35,307.61 L523.87,308.77 L525.38,309.9 L526.9,311 L528.42,312.06 L529.93,313.1 L531.45,314.11 L532.97,315.1 L534.48,316.06 L536,316.99 L537.52,317.9 L539.03,318.78 L540.55,319.64 L542.06,320.47 L543.58,321.29 L545.1,322.08 L546.61,322.85 L548.13,323.6 L549.65,324.33 L551.16,325.04 L552.68,325.73 L554.2,326.4 L555.71,327.05 L557.23,327.69 L558.74,328.31 L560.26,328.91 L561.78,329.5 L563.29,330.07 L564.81,330.63 L566.33,331.17 L567.84,331.69 L569.36,332.2 L570.88,332.7 L572.39,333.19 L573.91,333.66 L575.43,334.12 L576.94,334.57 L578.46,335 L579.97,335.42 L581.49,335.83 L583.01,336.24 L584.52,336.63 L586.04,337 L587.56,337.37 L589.07,337.73 L590.59,338.08 L592.11,338.42 L593.62,338.75 L595.14,339.08 L596.65,339.39 L598.17,339.69 L599.69,339.99 L601.2,340.28 L602.72,340.56 L604.24,340.84 L605.75,341.1 L607.27,341.36 L608.79,341.61 L610.3,341.86 L611.82,342.1 L613.33,342.33 L614.85,342.56 L616.37,342.78 L617.88,342.99 L619.4,343.2" class="ln"/>
<path d="M517.8,301.69 L519.32,303.28 L520.84,304.84 L522.35,306.37 L523.87,307.88 L525.38,309.37 L526.9,310.83 L528.42,312.27 L529.93,313.68 L531.45,315.07 L532.97,316.44 L534.48,317.78 L536,319.11 L537.52,320.41 L539.03,321.69 L540.55,322.95 L542.06,324.19 L543.58,325.4 L545.1,326.6 L546.61,327.78 L548.13,328.94 L549.65,330.08 L551.16,331.2 L552.68,332.3 L554.2,333.39 L555.71,334.46 L557.23,335.51 L558.74,336.54 L560.26,337.55 L561.78,338.55 L563.29,339.54 L564.81,340.5 L566.33,341.45 L567.84,342.39 L569.36,343.31 L570.88,344.21 L572.39,345.1 L573.91,345.98 L575.43,346.84 L576.94,347.68 L578.46,348.52 L579.97,349.34 L581.49,350.14 L583.01,350.93 L584.52,351.71 L586.04,352.48 L587.56,353.23 L589.07,353.98 L590.59,354.7 L592.11,355.42 L593.62,356.13 L595.14,356.82 L596.65,357.51 L598.17,358.18 L599.69,358.84 L601.2,359.49 L602.72,360.13 L604.24,360.76 L605.75,361.37 L607.27,361.98 L608.79,362.58 L610.3,363.17 L611.82,363.75 L613.33,364.32 L614.85,364.88 L616.37,365.43 L617.88,365.97 L619.4,366.5" class="dd"/>
<rect x="422.57" y="283.3" width="5.4" height="5.4" fill="#fff" stroke="#000" stroke-width="2.6"/>
<rect x="448.65" y="296.2" width="5.4" height="5.4" fill="#fff" stroke="#000" stroke-width="2.6"/>
<rect x="461.69" y="292.3" width="5.4" height="5.4" fill="#fff" stroke="#000" stroke-width="2.6"/>
<rect x="500.8" y="290.9" width="5.4" height="5.4" fill="#fff" stroke="#000" stroke-width="2.6"/>
<rect x="515.1" y="306.2" width="5.4" height="5.4" fill="#fff" stroke="#000" stroke-width="2.6"/>
<rect x="529.62" y="315.5" width="5.4" height="5.4" fill="#fff" stroke="#000" stroke-width="2.6"/>
<rect x="558.64" y="323.8" width="5.4" height="5.4" fill="#fff" stroke="#000" stroke-width="2.6"/>
<rect x="616.7" y="342" width="5.4" height="5.4" fill="#fff" stroke="#000" stroke-width="2.6"/>
<path d="M424.38,274.9 L426.17,274.9 L428.27,280.9 L422.27,280.9 Z" fill="#111" stroke="#111" stroke-width="1.2" stroke-linejoin="round"/>
<path d="M450.45,284.4 L452.25,284.4 L454.35,290.4 L448.35,290.4 Z" fill="#111" stroke="#111" stroke-width="1.2" stroke-linejoin="round"/>
<path d="M463.49,286.4 L465.29,286.4 L467.39,292.4 L461.39,292.4 Z" fill="#111" stroke="#111" stroke-width="1.2" stroke-linejoin="round"/>
<path d="M502.6,293.9 L504.4,293.9 L506.5,299.9 L500.5,299.9 Z" fill="#111" stroke="#111" stroke-width="1.2" stroke-linejoin="round"/>
<path d="M516.9,295.4 L518.7,295.4 L520.8,301.4 L514.8,301.4 Z" fill="#111" stroke="#111" stroke-width="1.2" stroke-linejoin="round"/>
<path d="M531.42,304.4 L533.22,304.4 L535.32,310.4 L529.32,310.4 Z" fill="#111" stroke="#111" stroke-width="1.2" stroke-linejoin="round"/>
<path d="M560.44,335.2 L562.24,335.2 L564.34,341.2 L558.34,341.2 Z" fill="#111" stroke="#111" stroke-width="1.2" stroke-linejoin="round"/>
<path d="M618.5,364.9 L620.3,364.9 L622.4,370.9 L616.4,370.9 Z" fill="#111" stroke="#111" stroke-width="1.2" stroke-linejoin="round"/>
<rect x="422.27" y="274.8" width="6" height="6" fill="#2e2e2e" stroke="#000" stroke-width="1"/>
<rect x="448.35" y="287.5" width="6" height="6" fill="#2e2e2e" stroke="#000" stroke-width="1"/>
<rect x="461.39" y="294" width="6" height="6" fill="#2e2e2e" stroke="#000" stroke-width="1"/>
<rect x="500.5" y="298.4" width="6" height="6" fill="#2e2e2e" stroke="#000" stroke-width="1"/>
<rect x="514.8" y="299" width="6" height="6" fill="#2e2e2e" stroke="#000" stroke-width="1"/>
<rect x="529.32" y="304.8" width="6" height="6" fill="#2e2e2e" stroke="#000" stroke-width="1"/>
<rect x="558.34" y="311.3" width="6" height="6" fill="#2e2e2e" stroke="#000" stroke-width="1"/>
<rect x="616.4" y="323" width="6" height="6" fill="#2e2e2e" stroke="#000" stroke-width="1"/>
<line x1="287" y1="34.9" x2="301.6" y2="34.9" class="ln"/>
<circle cx="294.6" cy="34.9" r="3.7" fill="#000"/><circle cx="294.6" cy="34.1" r="0.7" fill="#555"/>
<text x="310.2" y="38.9" class="lg">Water</text>
<line x1="287" y1="52.9" x2="301.6" y2="52.9" class="ln"/>
<circle cx="294.6" cy="52.9" r="3.2" fill="#151515"/>
<text x="310.2" y="56.9" class="lg">KBS</text>
<line x1="653.3" y1="35.3" x2="656.7" y2="35.3" class="ln"/>
<line x1="666.1" y1="35.3" x2="667.6" y2="35.3" class="ln"/>
<rect x="658" y="32.3" width="6" height="6" fill="#2e2e2e" stroke="#000" stroke-width="1"/>
<text x="675.9" y="39.3" class="lg">MeCN</text>
<line x1="653.3" y1="53.7" x2="668" y2="53.7" class="ln"/>
<rect x="658.3" y="51" width="5.4" height="5.4" fill="#fff" stroke="#000" stroke-width="2.6"/>
<line x1="659" y1="53.7" x2="663" y2="53.7" stroke="#000" stroke-width="1"/>
<text x="675.9" y="57.7" class="lg">MeOH</text>
<line x1="653.3" y1="72.2" x2="656.7" y2="72.2" class="ln"/>
<circle cx="664.8" cy="72.5" r="1.1" fill="#000"/>
<path d="M660.1,69.1 L661.9,69.1 L664,75.1 L658,75.1 Z" fill="#111" stroke="#111" stroke-width="1.2" stroke-linejoin="round"/>
<text x="675.9" y="76.2" class="lg">ACE</text>
<line x1="289" y1="263.9" x2="292.4" y2="263.9" class="ln"/>
<circle cx="300.3" cy="264.2" r="1.1" fill="#000"/>
<path d="M295.6,260.8 L297.4,260.8 L299.5,266.8 L293.5,266.8 Z" fill="#111" stroke="#111" stroke-width="1.2" stroke-linejoin="round"/>
<text x="311.8" y="267.9" class="lg">EtAc</text>
<line x1="289" y1="282.3" x2="292.4" y2="282.3" class="ln"/>
<line x1="301.7" y1="282.3" x2="303.2" y2="282.3" class="ln"/>
<rect x="293.5" y="279.3" width="6" height="6" fill="#2e2e2e" stroke="#000" stroke-width="1"/>
<text x="311.8" y="286.3" class="lg">EtOH</text>
<line x1="289" y1="300.3" x2="303.6" y2="300.3" class="ln"/>
<rect x="293.8" y="297.6" width="5.4" height="5.4" fill="#fff" stroke="#000" stroke-width="2.6"/>
<line x1="294.5" y1="300.3" x2="298.5" y2="300.3" stroke="#000" stroke-width="1"/>
<text x="311.8" y="304.3" class="lg">IPA</text>
<line x1="649.7" y1="263.8" x2="653.1" y2="263.8" class="ln"/>
<line x1="662.1" y1="263.8" x2="663.6" y2="263.8" class="ln"/>
<rect x="654" y="260.8" width="6" height="6" fill="#2e2e2e" stroke="#000" stroke-width="1"/>
<text x="672.8" y="267.8" class="lg">DMSO</text>
<line x1="649.7" y1="282.5" x2="664" y2="282.5" class="ln"/>
<rect x="654.3" y="279.8" width="5.4" height="5.4" fill="#fff" stroke="#000" stroke-width="2.6"/>
<line x1="655" y1="282.5" x2="659" y2="282.5" stroke="#000" stroke-width="1"/>
<text x="672.8" y="286.5" class="lg">DMF</text>
<line x1="649.7" y1="300.9" x2="653.1" y2="300.9" class="ln"/>
<circle cx="660.8" cy="301.2" r="1.1" fill="#000"/>
<path d="M656.1,297.8 L657.9,297.8 L660,303.8 L654,303.8 Z" fill="#111" stroke="#111" stroke-width="1.2" stroke-linejoin="round"/>
<text x="672.8" y="304.9" class="lg">DMA</text>
</g>
</svg></body></html>
